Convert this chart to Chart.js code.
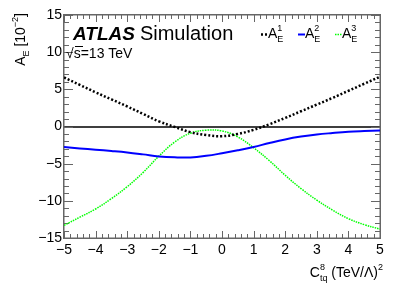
<!DOCTYPE html>
<html lang="en">
<head>
<meta charset="UTF-8">
<title>A_E vs C_tq^8</title>
<script src="https://cdn.jsdelivr.net/npm/chart.js"></script>
<style>
    html, body { margin: 0; padding: 0; background: #fff; }
</style>
</head>
<body>
<canvas id="c" width="399" height="286"></canvas>
<script>
// values (units of 10^-2)
const ctq8 = [-5, -4.5, -4, -3.5, -3, -2.5, -2, -1.5, -1, -0.5, 0, 0.5, 1, 1.5, 2, 2.5, 3, 3.5, 4, 4.5, 5];
const ae1 = [6.6, 5.6, 4.6, 3.65, 2.7, 1.7, 0.7, -0.05, -0.76, -1.15, -1.3, -1.0, -0.45, 0.3, 1.15, 2.05, 2.95, 3.85, 4.8, 5.75, 6.7];
const ae2 = [-2.77, -2.95, -3.12, -3.3, -3.5, -3.75, -4.02, -4.15, -4.17, -3.95, -3.6, -3.2, -2.75, -2.22, -1.74, -1.36, -1.07, -0.88, -0.72, -0.62, -0.54];
const ae3 = [-13.3, -12.2, -11.1, -9.7, -8.1, -6.2, -4.0, -2.1, -0.9, -0.5, -0.6, -1.4, -2.86, -4.6, -6.56, -8.35, -9.9, -11.25, -12.4, -13.2, -13.8];

const xTicks = [-5, -4, -3, -2, -1, 0, 1, 2, 3, 4, 5];
const yTicks = [-15, -10, -5, 0, 5, 10, 15];

const FONT = "'Liberation Sans', Arial, sans-serif";
Chart.defaults.font.family = FONT;
Chart.defaults.color = '#000';

function pts(ys) {
    return ctq8.map((x, i) => ({ x: x, y: ys[i] }));
}

// draw a run of text pieces: {t, s: size, dy: shift, stack: start at previous piece's x}
function rich(ctx, parts, x, y, align) {
    let w = 0, prevX = 0;
    const laid = [];
    parts.forEach(p => {
        ctx.font = p.s + 'px ' + FONT;
        const pw = ctx.measureText(p.t).width;
        let px;
        if (p.stack) {
            px = prevX;
            w = Math.max(w, prevX + pw);
        } else {
            px = w;
            prevX = w;
            w = w + pw;
        }
        laid.push({ p: p, x: px });
    });
    const x0 = align === 'right' ? x - w : x;
    ctx.textAlign = 'left';
    ctx.textBaseline = 'alphabetic';
    laid.forEach(l => {
        ctx.font = l.p.s + 'px ' + FONT;
        ctx.fillText(l.p.t, x0 + l.x, y + (l.p.dy || 0));
    });
    return w;
}

const atlasPlugin = {
    id: 'atlas',
    beforeDatasetsDraw(chart) {
        const ctx = chart.ctx;
        const xs = chart.scales.x, ys = chart.scales.y;
        ctx.save();
        const L = Math.round(xs.getPixelForValue(-5)), R = Math.round(xs.getPixelForValue(5));
        const T = Math.round(ys.getPixelForValue(15)), B = Math.round(ys.getPixelForValue(-15));

        // zero line
        ctx.fillStyle = '#000';
        const y0 = Math.round(ys.getPixelForValue(0));
        ctx.fillRect(L, y0 - 0.75, R - L, 1.5);

        // frame and inward ticks on all four sides
        ctx.fillStyle = '#666';
        ctx.fillRect(L - 1, T - 1, R - L + 2, 1.5);
        ctx.fillRect(L - 1, B - 0.5, R - L + 2, 1.5);
        ctx.fillRect(L - 1, T - 1, 1.5, B - T + 2);
        ctx.fillRect(R - 0.5, T - 1, 1.5, B - T + 2);
        for (let i = 0; i <= 50; i++) {
            const v = -5 + i * 0.2;
            const px = Math.round(xs.getPixelForValue(v));
            const len = i % 5 === 0 ? 7 : 4;
            ctx.fillRect(px, B - len, 1, len);
            ctx.fillRect(px, T, 1, len);
        }
        for (let v = -15; v <= 15; v++) {
            const py = Math.round(ys.getPixelForValue(v));
            const len = v % 5 === 0 ? 9 : 5;
            ctx.fillRect(L, py, len, 1);
            ctx.fillRect(R - len, py, len, 1);
        }
        // overline of sqrt(s)
        ctx.fillStyle = '#000';
        ctx.fillRect(75, 46, 8, 1);
        ctx.restore();
    },
    afterDraw(chart) {
        const ctx = chart.ctx;
        ctx.save();
        ctx.setLineDash([]);
        ctx.fillStyle = '#000';
        // ATLAS label
        ctx.font = 'italic bold 19px ' + FONT;
        ctx.textAlign = 'left';
        ctx.textBaseline = 'alphabetic';
        ctx.fillText('ATLAS', 73, 40);
        const aw = ctx.measureText('ATLAS').width;
        ctx.font = '20px ' + FONT;
        ctx.fillText('Simulation', 73 + aw + 5, 40);
        ctx.font = '14px ' + FONT;
        ctx.fillText('\u221As=13 TeV', 66, 58);

        // legend
        const leg = [
            { x: 261, color: '#000', w: 2.5, dash: [2, 2] },
            { x: 298, color: '#0000ff', w: 2, dash: [] },
            { x: 335, color: '#00ff00', w: 1.5, dash: [1.5, 1] }
        ];
        leg.forEach((l, i) => {
            ctx.strokeStyle = l.color;
            ctx.lineWidth = l.w;
            ctx.setLineDash(l.dash);
            ctx.beginPath();
            ctx.moveTo(l.x, 34.5); ctx.lineTo(l.x + 7, 34.5);
            ctx.stroke();
            ctx.setLineDash([]);
            ctx.fillStyle = '#000';
            rich(ctx, [
                { t: 'A', s: 14 },
                { t: 'E', s: 9, dy: 4 },
                { t: chart.data.datasets[i].label.slice(-1), s: 9, dy: -7, stack: true }
            ], l.x + 7, 38, 'left');
        });

        // x title
        rich(ctx, [
            { t: 'C', s: 14 },
            { t: 'tq', s: 9, dy: 4 },
            { t: '8', s: 9, dy: -7, stack: true },
            { t: ' (TeV/\u039B)', s: 14 },
            { t: '2', s: 9, dy: -7 }
        ], 383, 277, 'right');

        // y title
        ctx.translate(25, 13);
        ctx.rotate(-Math.PI / 2);
        rich(ctx, [
            { t: 'A', s: 14 },
            { t: 'E', s: 9, dy: 4 },
            { t: ' [10', s: 14 },
            { t: '\u22122', s: 9, dy: -7 },
            { t: ']', s: 14 }
        ], 0, 0, 'right');
        ctx.restore();
    }
};

new Chart(document.getElementById('c'), {
    type: 'line',
    data: {
        datasets: [
            {
                label: 'A_E^1',
                data: pts(ae1),
                borderColor: '#000',
                borderWidth: 2.5,
                borderDash: [2, 2],
                pointRadius: 0,
                tension: 0.4
            },
            {
                label: 'A_E^2',
                data: pts(ae2),
                borderColor: '#0000ff',
                borderWidth: 2,
                pointRadius: 0,
                tension: 0.4
            },
            {
                label: 'A_E^3',
                data: pts(ae3),
                borderColor: '#00ff00',
                borderWidth: 1.5,
                borderDash: [1.5, 1],
                pointRadius: 0,
                tension: 0.4
            }
        ]
    },
    options: {
        responsive: false,
        animation: false,
        layout: { padding: { top: 15, right: 19, left: 0, bottom: 0 } },
        plugins: {
            legend: { display: false },
            tooltip: { enabled: false }
        },
        scales: {
            x: {
                type: 'linear',
                min: -5,
                max: 5,
                grid: { display: false, drawTicks: false },
                border: { display: false },
                afterFit: s => { s.height = 48; },
                afterBuildTicks: s => { s.ticks = xTicks.map(v => ({ value: v })); },
                ticks: {
                    autoSkip: false,
                    maxRotation: 0,
                    padding: 4,
                    font: { size: 14 },
                    callback: v => String(v).replace('-', '\u2212')
                }
            },
            y: {
                min: -15,
                max: 15,
                grid: { display: false, drawTicks: false },
                border: { display: false },
                afterFit: s => { s.width = 64; },
                afterBuildTicks: s => { s.ticks = yTicks.map(v => ({ value: v })); },
                ticks: {
                    padding: 2,
                    font: { size: 14 },
                    callback: v => String(v).replace('-', '\u2212')
                }
            }
        }
    },
    plugins: [atlasPlugin]
});
</script>
</body>
</html>
